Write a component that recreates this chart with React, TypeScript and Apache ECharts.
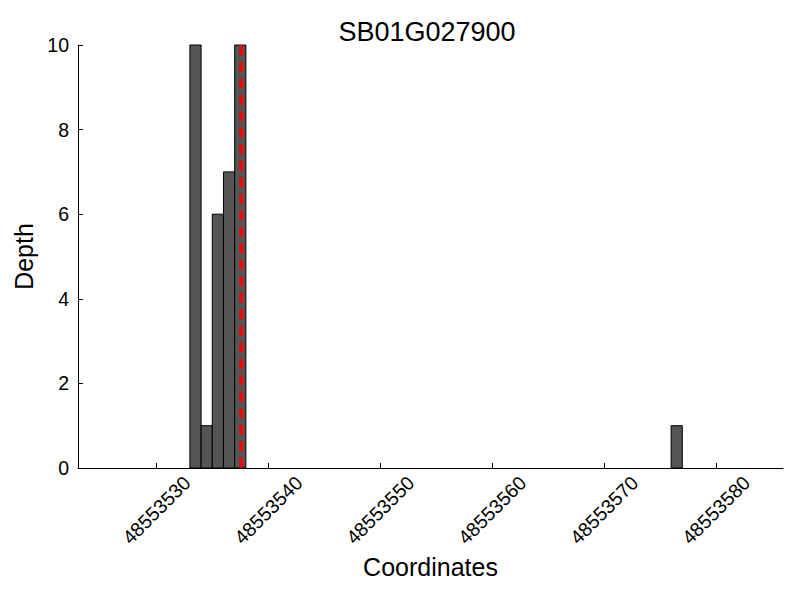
import React, { useEffect, useRef } from "react";
import * as echarts from "echarts";

const binStarts = [48553533, 48553534, 48553535, 48553536, 48553537, 48553576];
const depths = [10, 1, 6, 7, 10, 1];
const binWidth = 1;
const xTicks = [48553530, 48553540, 48553550, 48553560, 48553570, 48553580];
const xMin = 48553523;
const xMax = 48553586;
const markerPos = 48553537.5;
const title = "SB01G027900";

export default function App() {
  const ref = useRef<HTMLDivElement>(null);
  useEffect(() => {
    if (!ref.current) return;
    const chart = echarts.init(ref.current, undefined, { renderer: "svg" });
    const font = "Liberation Sans";
    const data = binStarts.map((s, i) => [s, s + binWidth, depths[i]]);
    chart.setOption({
      animation: false,
      textStyle: { fontFamily: font },
      title: {
        text: title,
        left: 422,
        top: 13,
        textAlign: "center",
        textStyle: { fontFamily: font, fontSize: 27, fontWeight: "normal", color: "#000" },
      },
      grid: { left: 78, right: 17, top: 45, bottom: 132 },
      xAxis: {
        type: "value",
        min: xMin,
        max: xMax,
        name: "Coordinates",
        nameLocation: "middle",
        nameGap: 85,
        nameTextStyle: { fontFamily: font, fontSize: 25, color: "#000" },
        splitLine: { show: false },
        axisLine: { show: true, onZero: false, lineStyle: { color: "#000", width: 1 } },
        axisTick: { show: true, inside: true, length: 5, customValues: xTicks, lineStyle: { color: "#000" } },
        axisLabel: {
          customValues: xTicks,
          rotate: 45,
          align: "center",
          verticalAlign: "middle",
          margin: 42,
          fontFamily: font,
          fontSize: 19.5,
          color: "#000",
          formatter: (v: number) => String(v),
        },
      },
      yAxis: {
        type: "value",
        min: 0,
        max: 10,
        interval: 2,
        name: "Depth",
        nameLocation: "middle",
        nameGap: 39,
        nameTextStyle: { fontFamily: font, fontSize: 25, color: "#000" },
        splitLine: { show: false },
        axisLine: { show: true, lineStyle: { color: "#000", width: 1 } },
        axisTick: { show: true, inside: true, length: 5, lineStyle: { color: "#000" } },
        axisLabel: { margin: 9, fontFamily: font, fontSize: 19.5, color: "#000" },
      },
      series: [
        {
          type: "custom",
          data,
          encode: { x: [0, 1], y: 2 },
          renderItem: (params: any, api: any) => {
            const s = api.value(0);
            const e = api.value(1);
            const v = api.value(2);
            const p0 = api.coord([s, v]);
            const p1 = api.coord([e, 0]);
            return {
              type: "rect",
              shape: { x: p0[0], y: p0[1], width: p1[0] - p0[0], height: p1[1] - p0[1] },
              style: { fill: "#555555", stroke: "#000", lineWidth: 1 },
            };
          },
          markLine: {
            silent: true,
            symbol: "none",
            label: { show: false },
            lineStyle: { color: "#ff0000", type: [10, 6.5], width: 3.5, opacity: 1 },
            data: [[{ coord: [markerPos, 10] }, { coord: [markerPos, 0] }]],
          },
        },
      ],
    });
    return () => chart.dispose();
  }, []);
  return <div ref={ref} style={{ width: 800, height: 600, position: "absolute", left: 0, top: 0, background: "#fff" }} />;
}
